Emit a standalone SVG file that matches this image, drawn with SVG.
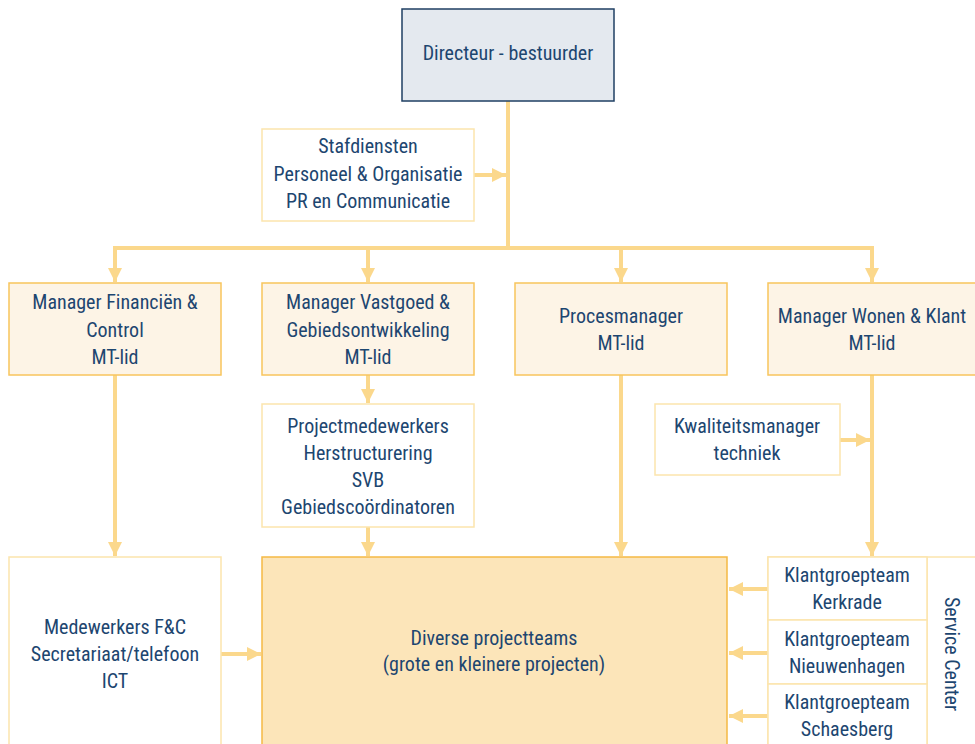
<svg xmlns="http://www.w3.org/2000/svg" width="975" height="744" viewBox="0 0 975 744">
<defs>
<style>
text{font-family:"Liberation Sans Narrow","Roboto Condensed","Liberation Sans",sans-serif;font-size:20px;fill:#1d4670;text-anchor:middle}
.pale{fill:#ffffff;stroke:#fce5ad;stroke-width:1.5}
.mgr{fill:#fdf4e6;stroke:#f8c55c;stroke-width:1.5}
.c{stroke:#fbd88c;stroke-width:4;fill:none}
</style>
<marker id="a" viewBox="0 0 10 10" refX="10" refY="5" markerWidth="3.6" markerHeight="3.6" orient="auto" markerUnits="strokeWidth"><path d="M0,0L10,5L0,10z" fill="#fbd88c"/></marker>
</defs>
<rect width="975" height="744" fill="#fff"/>
<g id="connectors">
<path class="c" d="M508,101V248"/>
<path class="c" d="M474,175H506" marker-end="url(#a)"/>
<path class="c" d="M115,248H872"/>
<path class="c" d="M115,246V282" marker-end="url(#a)"/>
<path class="c" d="M368,248V282" marker-end="url(#a)"/>
<path class="c" d="M621,248V282" marker-end="url(#a)"/>
<path class="c" d="M872,246V282" marker-end="url(#a)"/>
<path class="c" d="M115,375V556" marker-end="url(#a)"/>
<path class="c" d="M368,375V403" marker-end="url(#a)"/>
<path class="c" d="M368,527V556" marker-end="url(#a)"/>
<path class="c" d="M621,375V556" marker-end="url(#a)"/>
<path class="c" d="M872,375V556" marker-end="url(#a)"/>
<path class="c" d="M840,440H870" marker-end="url(#a)"/>
<path class="c" d="M221,654H261" marker-end="url(#a)"/>
<path class="c" d="M768,589H729" marker-end="url(#a)"/>
<path class="c" d="M768,653H729" marker-end="url(#a)"/>
<path class="c" d="M768,716H729" marker-end="url(#a)"/>
</g>
<g id="directeur"><rect x="402" y="9" width="212" height="92" fill="#e4e9ef" stroke="#1f3f63" stroke-width="1.5"/><text x="508" y="60">Directeur - bestuurder</text></g>
<g id="stafdiensten"><rect class="pale" x="262" y="129" width="212" height="92"/><text x="368" y="153">Stafdiensten</text><text x="368" y="181">Personeel &amp; Organisatie</text><text x="368" y="208">PR en Communicatie</text></g>
<g id="mgr-fin"><rect class="mgr" x="9" y="283" width="212" height="92"/><text x="115" y="309">Manager Financiën &amp;</text><text x="115" y="337">Control</text><text x="115" y="364">MT-lid</text></g>
<g id="mgr-vast"><rect class="mgr" x="262" y="283" width="212" height="92"/><text x="368" y="309">Manager Vastgoed &amp;</text><text x="368" y="337">Gebiedsontwikkeling</text><text x="368" y="364">MT-lid</text></g>
<g id="procesmanager"><rect class="mgr" x="515" y="283" width="212" height="92"/><text x="621" y="323">Procesmanager</text><text x="621" y="350">MT-lid</text></g>
<g id="mgr-wonen"><rect class="mgr" x="768" y="283" width="212" height="92"/><text x="872" y="323">Manager Wonen &amp; Klant</text><text x="872" y="350">MT-lid</text></g>
<g id="projectmedewerkers"><rect class="pale" x="262" y="404" width="212" height="123"/><text x="368" y="433">Projectmedewerkers</text><text x="368" y="460">Herstructurering</text><text x="368" y="487">SVB</text><text x="368" y="514">Gebiedscoördinatoren</text></g>
<g id="kwaliteit"><rect class="pale" x="655" y="404" width="185" height="71"/><text x="747" y="433">Kwaliteitsmanager</text><text x="747" y="460">techniek</text></g>
<g id="medewerkers"><rect class="pale" x="9" y="557" width="212" height="200"/><text x="115" y="634">Medewerkers F&amp;C</text><text x="115" y="661">Secretariaat/telefoon</text><text x="115" y="688">ICT</text></g>
<g id="diverse"><rect x="262" y="557" width="465" height="200" fill="#fce5b9" stroke="#f5b944" stroke-width="1.5"/><text x="494" y="645">Diverse projectteams</text><text x="494" y="671">(grote en kleinere projecten)</text></g>
<g id="service-center"><rect class="pale" x="768" y="557" width="220" height="200"/><line x1="927" y1="557" x2="927" y2="744" stroke="#fce5ad" stroke-width="1.5"/><text x="0" y="0" transform="translate(945,654) rotate(90)">Service Center</text></g>
<g id="kg-kerkrade"><rect class="pale" x="768" y="557" width="159" height="63"/><text x="847" y="582">Klantgroepteam</text><text x="847" y="609">Kerkrade</text></g>
<g id="kg-nieuwenhagen"><rect class="pale" x="768" y="620" width="159" height="64"/><text x="847" y="646">Klantgroepteam</text><text x="847" y="673">Nieuwenhagen</text></g>
<g id="kg-schaesberg"><rect class="pale" x="768" y="684" width="159" height="70"/><text x="847" y="709">Klantgroepteam</text><text x="847" y="736">Schaesberg</text></g>
</svg>
